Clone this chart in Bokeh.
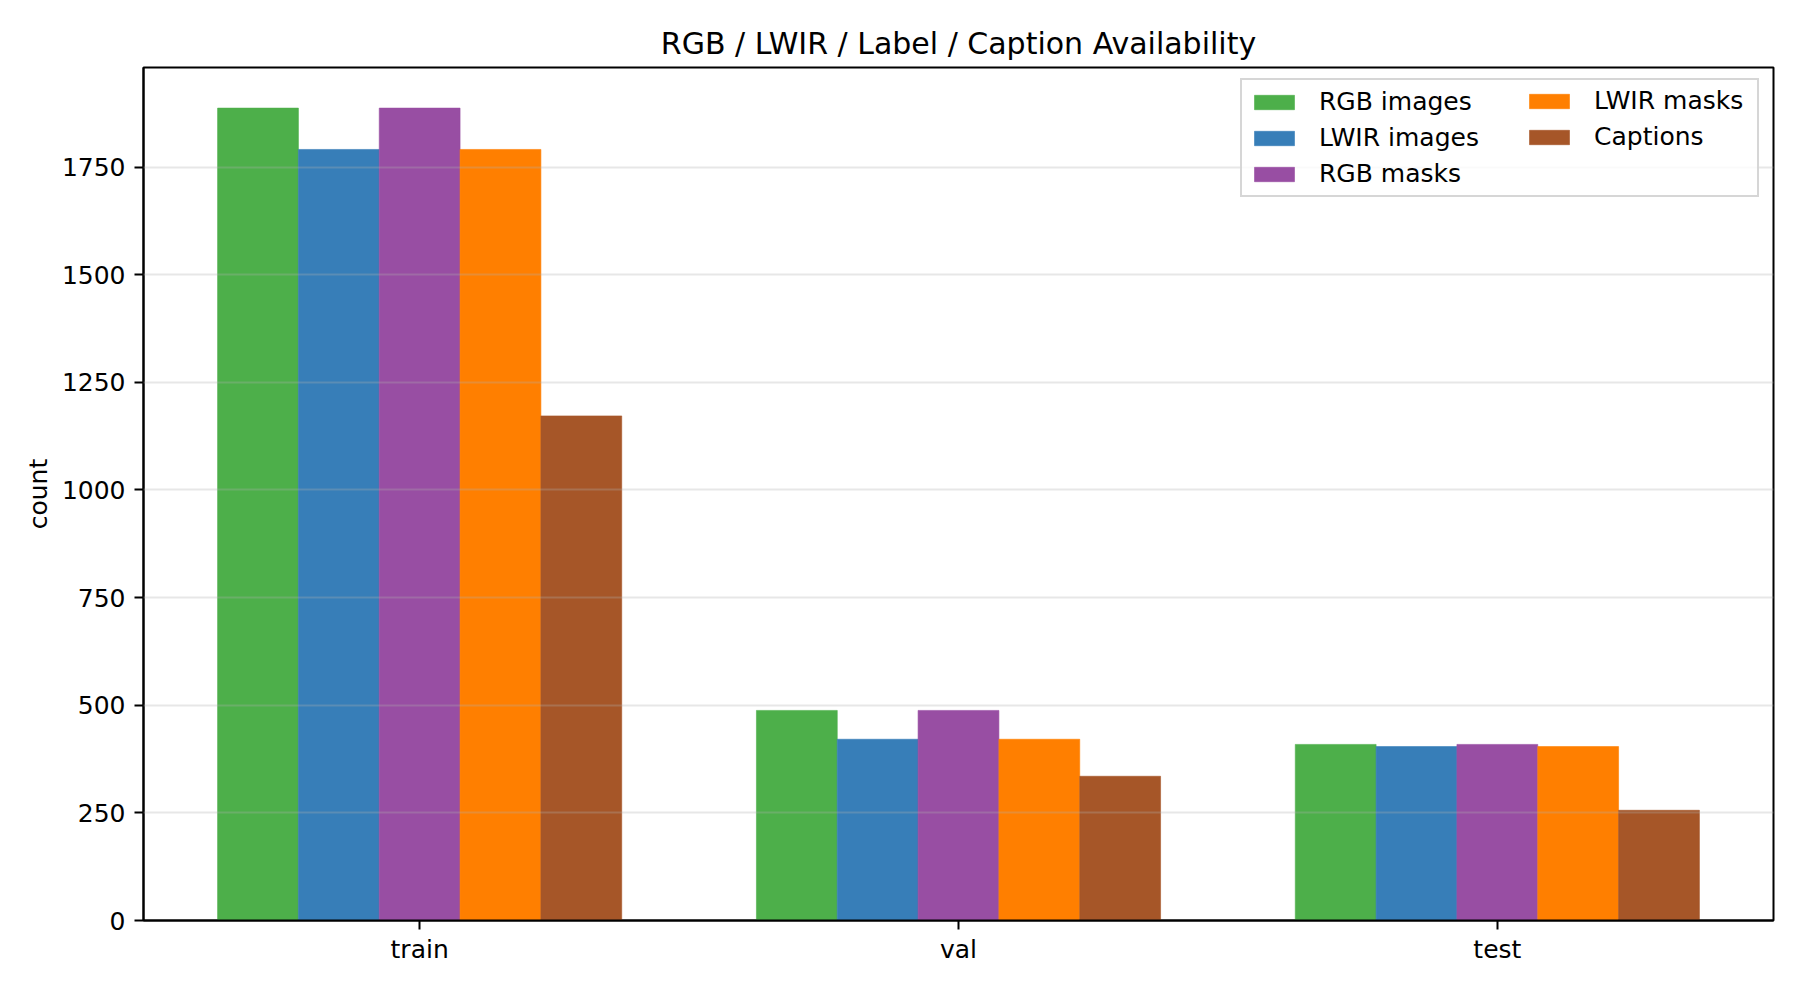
from bokeh.plotting import figure
from bokeh.models import FactorRange, Range1d, SingleIntervalTicker, Legend, LegendItem
from bokeh.transform import dodge
from bokeh.embed import file_html
from bokeh.resources import INLINE

# data
splits = ["train", "val", "test"]
rgb_images = [1887, 488, 409]
lwir_images = [1791, 421, 404]
rgb_masks = [1887, 488, 409]
lwir_masks = [1791, 421, 404]
captions = [1172, 335, 256]

series = ["RGB images", "LWIR images", "RGB masks", "LWIR masks", "Captions"]
values = [rgb_images, lwir_images, rgb_masks, lwir_masks, captions]
colors = ["#4daf4a", "#377eb8", "#984ea3", "#ff7f00", "#a65628"]

source = {"split": splits}
for name, vals in zip(series, values):
    source[name] = vals

ymax = max(max(v) for v in values) * 1.05

p = figure(x_range=FactorRange(factors=splits, range_padding=0.0125, range_padding_units="absolute"),
           y_range=Range1d(0, ymax),
           frame_width=1630, frame_height=853,
           min_border_left=143, min_border_right=11, min_border_top=67, min_border_bottom=54,
           toolbar_location=None, tools="", output_backend="svg",
           title="RGB / LWIR / Label / Caption Availability")

bar_w = 0.15
items = []
for i, name in enumerate(series):
    off = (i - 2) * bar_w
    # thin outline in the fill colour hides the seams between neighbouring bars
    r = p.vbar(x=dodge("split", off, range=p.x_range), top=name, width=bar_w,
               fill_color=colors[i], line_color=colors[i], line_width=0.6, source=source)
    items.append(LegendItem(label=name, renderers=[r]))

# title
p.title.align = "center"
p.title.text_font = "DejaVu Sans"
p.title.text_font_size = "30px"
p.title.text_font_style = "normal"
p.title.text_color = "black"
p.title.standoff = 13

# axes
for ax in [p.xaxis, p.yaxis]:
    ax.axis_line_width = 2
    ax.axis_line_color = "black"
    ax.major_tick_line_width = 2
    ax.major_tick_line_color = "black"
    ax.major_tick_out = 9
    ax.major_tick_in = 0
    ax.minor_tick_line_color = None
    ax.major_label_text_font = "DejaVu Sans"
    ax.major_label_text_font_size = "25px"
    ax.major_label_text_color = "black"
    ax.major_label_standoff = 9
p.xaxis.major_label_standoff = 5

p.yaxis.ticker = SingleIntervalTicker(interval=250)
p.yaxis.axis_label = "count"
p.yaxis.axis_label_text_font = "DejaVu Sans"
p.yaxis.axis_label_text_font_size = "25px"
p.yaxis.axis_label_text_font_style = "normal"
p.yaxis.axis_label_text_color = "black"
p.yaxis.axis_label_standoff = 6

p.outline_line_color = "black"
p.outline_line_width = 2
p.outline_line_alpha = 1

p.xgrid.grid_line_color = None
p.ygrid.grid_line_color = "#b0b0b0"
p.ygrid.grid_line_alpha = 0.3
p.ygrid.grid_line_width = 2
p.ygrid.level = "guide"


def style_legend(lg):
    lg.label_text_font = "DejaVu Sans"
    lg.label_text_font_size = "25px"
    lg.label_text_color = "black"
    lg.glyph_width = 50
    lg.glyph_height = 18
    lg.label_standoff = 20
    lg.spacing = 7
    lg.padding = 7
    lg.margin = 0


# two columns: first legend carries the frame, second sits inside it
leg1 = Legend(items=items[:3], location=(1097, 723), orientation="vertical")
style_legend(leg1)
leg1.label_width = 431
leg1.border_line_color = "#cccccc"
leg1.border_line_width = 2
leg1.border_line_alpha = 0.8
leg1.background_fill_alpha = 0.8

leg2 = Legend(items=items[3:], location=(1381, 769), orientation="vertical")
style_legend(leg2)
leg2.border_line_color = None
leg2.background_fill_alpha = 0

p.add_layout(leg1)
p.add_layout(leg2)

open("out.html", "w").write(file_html(p, INLINE))
